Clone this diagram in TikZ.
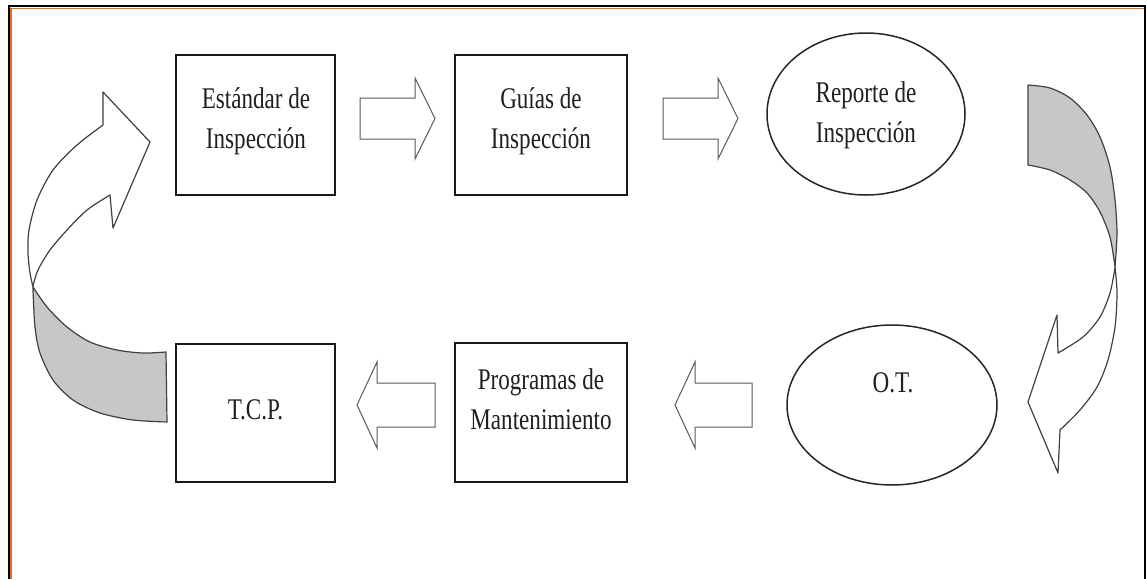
\documentclass[tikz,border=0pt]{standalone}
\usepackage{fontspec}
\setmainfont{Liberation Serif}[FakeStretch=0.77]
\usetikzlibrary{shapes.geometric}
\definecolor{frameorange}{RGB}{224,112,32}
\begin{document}
\begin{tikzpicture}[x=1pt,y=-1pt,
  boxnode/.style={draw=black!90, line width=2.5pt, inner sep=0pt},
  ovalnode/.style={ellipse, draw=black!85, line width=1.5pt, inner sep=0pt},
  lbl/.style={font=\fontsize{30}{40}\selectfont, text=black!88, align=center, inner sep=0pt},
  blk/.style={draw=black!65, line width=1pt, line join=miter, fill=white},
  curv/.style={draw=black!75, line width=1.2pt, line join=round},
  gfill/.style={fill=black!22}]
\useasboundingbox (0,0) rectangle (1146,579);
% frame
\draw[black, line width=2pt] (9,579) -- (9,6) -- (1145,6) -- (1145,579);
\draw[frameorange, line width=1.5pt] (11,579) -- (11,8.5) -- (1144,8.5);
% top row
\node[boxnode, minimum width=159pt, minimum height=140pt] (est) at (255.5,125) {};
\node[lbl] (test) at (256,121) {Estándar de\\Inspección};
\node[boxnode, minimum width=172pt, minimum height=140pt] (gui) at (541,125) {};
\node[lbl] (tgui) at (541,121) {Guías de\\Inspección};
\node[ovalnode, minimum width=198pt, minimum height=162pt] (rep) at (866,114) {};
\node[lbl] (trep) at (866,115) {Reporte de\\Inspección};
% bottom row
\node[boxnode, minimum width=159pt, minimum height=138pt] (tcp) at (255.5,413) {};
\node[lbl] (ttcp) at (255.5,410) {T.C.P.};
\node[boxnode, minimum width=172pt, minimum height=139pt] (pro) at (541,412.5) {};
\node[lbl] (tpro) at (541,399) {Programas de\\Mantenimiento};
\node[ovalnode, minimum width=210pt, minimum height=160pt] (ot) at (892,405) {};
\node[lbl] (tot) at (893,383) {O.T.};
% block arrows
\draw[blk] (360,98) -- (415,98) -- (415,78) -- (435,118.5) -- (415,159) -- (415,139) -- (360,139) -- cycle;
\draw[blk] (663,98) -- (718,98) -- (718,78) -- (738,118.5) -- (718,159) -- (718,139) -- (663,139) -- cycle;
\draw[blk] (435,383) -- (377,383) -- (377,362) -- (357,405) -- (377,448) -- (377,427) -- (435,427) -- cycle;
\draw[blk] (752,383) -- (695,383) -- (695,362) -- (675,405) -- (695,448) -- (695,427) -- (752,427) -- cycle;
% left curved arrow (gray back part)
\path[gfill, curv] plot[smooth] coordinates {(33,287) (47,307) (67,327) (90,342) (117,350) (143,353) (166,352)}
  -- (167,422)
  -- plot[smooth] coordinates {(167,422) (133,420) (100,413) (73,400) (53,380) (40,353) (35,327) (33,290)} -- cycle;
% left curved arrow (white front part with head)
\path[fill=white, curv] plot[smooth] coordinates {(33,287) (30,273) (28,253) (29,230) (37,200) (53,170) (77,145) (103,125)}
  -- (103,92) -- (150,142) -- (113,228) -- (110,195)
  -- plot[smooth] coordinates {(110,195) (87,210) (67,230) (50,250) (38,270) (33,286)} -- cycle;
% right curved arrow (gray back part)
\path[gfill, curv] (1028,85)
  -- plot[smooth] coordinates {(1028,85) (1050,88) (1070,98) (1087,115) (1100,137) (1110,167) (1115,200) (1117,233) (1115,267)}
  -- plot[smooth] coordinates {(1115,267) (1110,237) (1100,212) (1087,193) (1070,180) (1050,170) (1028,165)} -- cycle;
% right curved arrow (white front part with head)
\path[fill=white, curv] plot[smooth] coordinates {(1115,267) (1117,293) (1115,327) (1108,360) (1097,387) (1080,410) (1060,430)}
  -- (1058,473) -- (1028,402) -- (1057,315) -- (1058,353)
  -- plot[smooth] coordinates {(1058,353) (1083,337) (1100,317) (1110,293) (1115,268)} -- cycle;
\end{tikzpicture}
\end{document}
